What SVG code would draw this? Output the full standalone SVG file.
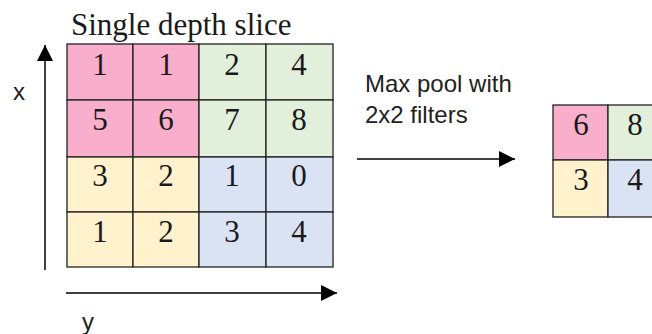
<svg xmlns="http://www.w3.org/2000/svg" width="652" height="334" viewBox="0 0 652 334">
<style>
.cell{stroke:#222;stroke-width:1.3}
.pink{fill:#F9AECB}
.green{fill:#E2EFDA}
.yellow{fill:#FFF2CC}
.blue{fill:#DAE3F3}
.num{font-family:"Liberation Serif",serif;font-size:31px;fill:#1a1a1a;text-anchor:middle}
.sans{font-family:"Liberation Sans",Arial,sans-serif;font-size:24px;fill:#222}
.ax{stroke:#000;stroke-width:1.5;fill:none}
</style>
<defs>
<marker id="ah" viewBox="0 0 16 16" refX="16" refY="8" markerWidth="16" markerHeight="16" markerUnits="userSpaceOnUse" orient="auto">
<path d="M0,0 L16,8 L0,16 Z" fill="#000"/>
</marker>
</defs>
<rect width="652" height="334" fill="#fff"/>
<text x="71" y="35" font-family="'Liberation Serif',serif" font-size="31" fill="#1a1a1a">Single depth slice</text>
<g id="input">
<rect class="cell pink" x="67" y="44" width="66" height="56"/>
<rect class="cell pink" x="133" y="44" width="66" height="56"/>
<rect class="cell green" x="199" y="44" width="67" height="56"/>
<rect class="cell green" x="266" y="44" width="67" height="56"/>
<rect class="cell pink" x="67" y="100" width="66" height="57"/>
<rect class="cell pink" x="133" y="100" width="66" height="57"/>
<rect class="cell green" x="199" y="100" width="67" height="57"/>
<rect class="cell green" x="266" y="100" width="67" height="57"/>
<rect class="cell yellow" x="67" y="157" width="66" height="55"/>
<rect class="cell yellow" x="133" y="157" width="66" height="55"/>
<rect class="cell blue" x="199" y="157" width="67" height="55"/>
<rect class="cell blue" x="266" y="157" width="67" height="55"/>
<rect class="cell yellow" x="67" y="212" width="66" height="55"/>
<rect class="cell yellow" x="133" y="212" width="66" height="55"/>
<rect class="cell blue" x="199" y="212" width="67" height="55"/>
<rect class="cell blue" x="266" y="212" width="67" height="55"/>
<text class="num" x="100" y="75">1</text>
<text class="num" x="166" y="75">1</text>
<text class="num" x="232" y="75">2</text>
<text class="num" x="299" y="75">4</text>
<text class="num" x="100" y="130">5</text>
<text class="num" x="166" y="130">6</text>
<text class="num" x="232" y="130">7</text>
<text class="num" x="299" y="130">8</text>
<text class="num" x="100" y="186">3</text>
<text class="num" x="166" y="186">2</text>
<text class="num" x="232" y="186">1</text>
<text class="num" x="299" y="186">0</text>
<text class="num" x="100" y="242">1</text>
<text class="num" x="166" y="242">2</text>
<text class="num" x="232" y="242">3</text>
<text class="num" x="299" y="242">4</text>
</g>
<g id="output">
<rect class="cell pink" x="553" y="105" width="55" height="55"/>
<rect class="cell green" x="608" y="105" width="55" height="55"/>
<rect class="cell yellow" x="553" y="160" width="55" height="57"/>
<rect class="cell blue" x="608" y="160" width="55" height="57"/>
<text class="num" x="581" y="135">6</text>
<text class="num" x="635" y="135">8</text>
<text class="num" x="581" y="190">3</text>
<text class="num" x="635" y="190">4</text>
</g>
<g id="connectors">
<line class="ax" x1="45" y1="270" x2="45" y2="45" marker-end="url(#ah)"/>
<line class="ax" x1="66" y1="293" x2="337" y2="293" marker-end="url(#ah)"/>
<line class="ax" x1="357" y1="159" x2="515" y2="159" marker-end="url(#ah)"/>
</g>
<g id="labels">
<text class="sans" x="13" y="100">x</text>
<text class="sans" x="82" y="330">y</text>
<text class="sans" x="365" y="92">Max pool with</text>
<text class="sans" x="365" y="123">2x2 filters</text>
</g>
</svg>
